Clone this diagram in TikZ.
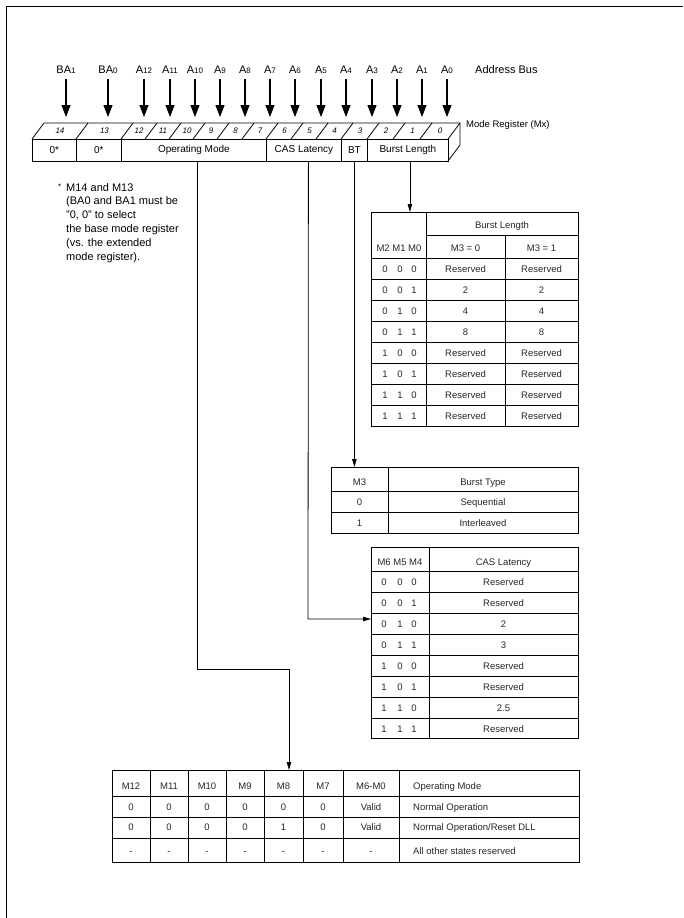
\documentclass[tikz,border=0pt]{standalone}
\usepackage{fontspec}
\setmainfont{Liberation Sans}
\usetikzlibrary{arrows.meta}

\newcommand{\busname}[2]{#1{\fontsize{8}{8}\selectfont #2}}

\tikzset{
  regcell/.style={draw,line width=0.8pt,anchor=north west,inner sep=0pt,minimum height=22pt,font=\fontsize{10}{12}\selectfont},
  bitnum/.style={inner sep=0pt,font=\fontsize{8}{8}\selectfont\itshape},
  buslabel/.style={anchor=base,inner sep=0pt,text height=8pt,text depth=0pt,font=\fontsize{11}{13}\selectfont},
  tabbox/.style={draw,line width=0.8pt,anchor=north west,inner sep=0pt},
  tabline/.style={line width=0.6pt},
  tabtext/.style={inner sep=0pt,text height=6.8pt,text depth=0pt,font=\fontsize{9.5}{11}\selectfont,text=black!85},
  busarrow/.style={line width=1.1pt,shorten <=6pt,-{Triangle[length=12pt,width=9pt]}},
  linkarrow/.style={line width=0.8pt,-{Triangle[length=8pt,width=4.5pt]}},
}

\begin{document}
\begin{tikzpicture}[x=1pt,y=-1pt]
  \useasboundingbox (0,0) rectangle (683,918);
  \draw[line width=1.5pt] (6.5,918) -- (6.5,6.5) -- (683,6.5);

  % address bus
  \foreach \ax/\pre/\sub [count=\i] in {66/BA/1,108/BA/0,144/A/12,170/A/11,195/A/10,220/A/9,245/A/8,270/A/7,295/A/6,321/A/5,346/A/4,372/A/3,397/A/2,422/A/1,447/A/0}{
    \node[buslabel] (ad\i) at (\ax,73) {\busname{\pre}{\sub}};
    \coordinate (pin\i) at (\ax,117);
    \draw[busarrow] (ad\i) -- (pin\i);
  }
  \node[buslabel,anchor=base west] (abus) at (475,73) {Address Bus};

  % mode register
  \draw[line width=0.8pt] (32,139) -- (44,123) -- (460,123) -- (460,145) -- (448,161);
  \draw[line width=0.8pt] (448,139) -- (460,123);
  \foreach \b in {76,121,145,169,193,217,242,266,291,316,341,367,393,420}
    \draw[line width=0.8pt] (\b,139) -- ++(12,-16);
  \foreach \bl/\br/\nm in {32/76/14,76/121/13,121/145/12,145/169/11,169/193/10,193/217/9,217/242/8,242/266/7,266/291/6,291/316/5,316/341/4,341/367/3,367/393/2,393/420/1,420/448/0}
    \node[bitnum] (bit\nm) at ({(\bl+\br)/2+6},131) {\nm};
  \node[regcell,minimum width=44pt] (m14) at (32,139) {0*};
  \node[regcell,minimum width=45pt] (m13) at (76,139) {0*};
  \node[regcell,minimum width=145pt] (om) at (121,139) {Operating Mode};
  \node[regcell,minimum width=75pt] (cl) at (266,139) {CAS Latency};
  \node[regcell,minimum width=26pt] (bt) at (341,139) {BT};
  \node[regcell,minimum width=81pt] (bl) at (367,139) {Burst Length};
  \node[anchor=west,inner sep=0pt,font=\fontsize{9.5}{11}\selectfont] (mreg) at (466,125) {Mode Register (Mx)};

  % footnote
  \node[anchor=north west,inner sep=0pt,align=left,font=\fontsize{11}{13.8}\selectfont] (note) at (66,183)
    {\llap{\raisebox{1.5pt}{\fontsize{8}{8}\selectfont *}\hspace{5pt}}M14 and M13\\(BA0 and BA1 must be\\"0, 0" to select\\the base mode register\\(vs. the extended\\mode register).};

  % burst length table
  \node[tabbox,minimum width=207pt,minimum height=214pt] (bltab) at (371,212) {};
  \draw[tabline] (426,212) -- (426,426) (505,235) -- (505,426) (426,235) -- (578,235) (371,258) -- (578,258);
  \foreach \y in {279,300,321,342,363,384,405}
    \draw[tabline] (371,\y) -- (578,\y);
  \node[tabtext] (blhead) at (502,225) {Burst Length};
  \node[tabtext] (blbits) at (399,248) {M2 M1 M0};
  \node[tabtext] (blseq) at (465.5,248) {M3 = 0};
  \node[tabtext] (blint) at (541.5,248) {M3 = 1};
  \foreach \da/\db/\dc/\va/\vb [count=\r] in {0/0/0/Reserved/Reserved,0/0/1/2/2,0/1/0/4/4,0/1/1/8/8,1/0/0/Reserved/Reserved,1/0/1/Reserved/Reserved,1/1/0/Reserved/Reserved,1/1/1/Reserved/Reserved}{
    \pgfmathsetmacro\ry{258+21*\r-10}
    \node[tabtext] (bl-\r-a) at (385,\ry) {\da};
    \node[tabtext] (bl-\r-b) at (400,\ry) {\db};
    \node[tabtext] (bl-\r-c) at (414,\ry) {\dc};
    \node[tabtext] (bl-\r-s) at (465.5,\ry) {\va};
    \node[tabtext] (bl-\r-i) at (541.5,\ry) {\vb};
  }

  % burst type table
  \node[tabbox,minimum width=247pt,minimum height=66pt] (bttab) at (331,467) {};
  \draw[tabline] (388,467) -- (388,533) (331,491) -- (578,491) (331,512) -- (578,512);
  \node[tabtext] (bthead) at (359.5,482) {M3};
  \node[tabtext] (btname) at (483,482) {Burst Type};
  \node[tabtext] (bt-1-a) at (359.5,502) {0};
  \node[tabtext] (bt-1-b) at (483,502) {Sequential};
  \node[tabtext] (bt-2-a) at (359.5,523) {1};
  \node[tabtext] (bt-2-b) at (483,523) {Interleaved};

  % CAS latency table
  \node[tabbox,minimum width=207pt,minimum height=191pt] (cltab) at (371,547) {};
  \draw[tabline] (429,547) -- (429,738);
  \foreach \y in {571,592,613,634,655,676,697,718}
    \draw[tabline] (371,\y) -- (578,\y);
  \node[tabtext] (clbits) at (400,562) {M6 M5 M4};
  \node[tabtext] (clhead) at (503.5,562) {CAS Latency};
  \foreach \da/\db/\dc/\va [count=\r] in {0/0/0/Reserved,0/0/1/Reserved,0/1/0/2,0/1/1/3,1/0/0/Reserved,1/0/1/Reserved,1/1/0/2.5,1/1/1/Reserved}{
    \pgfmathsetmacro\ry{571+21*\r-9.5}
    \node[tabtext] (cl-\r-a) at (384,\ry) {\da};
    \node[tabtext] (cl-\r-b) at (400,\ry) {\db};
    \node[tabtext] (cl-\r-c) at (414,\ry) {\dc};
    \node[tabtext] (cl-\r-v) at (503.5,\ry) {\va};
  }

  % operating mode table
  \node[tabbox,minimum width=467pt,minimum height=92pt] (omtab) at (112,770) {};
  \foreach \x in {150,188,226,264,303,343,399}
    \draw[tabline] (\x,770) -- (\x,862);
  \foreach \y in {796,817,838}
    \draw[tabline] (112,\y) -- (579,\y);
  \foreach \ry/\vals/\desc [count=\r] in {786/{M12,M11,M10,M9,M8,M7,M6-M0}/{Operating Mode},807/{0,0,0,0,0,0,Valid}/{Normal Operation},827/{0,0,0,0,1,0,Valid}/{Normal Operation/Reset DLL},851/{-,-,-,-,-,-,-}/{All other states reserved}}{
    \foreach \v [count=\c] in \vals {
      \pgfmathsetmacro\cx{{131,169,207,245,283.5,323,371}[\c-1]}
      \node[tabtext] (om-\r-\c) at (\cx,\ry) {\v};
    }
    \node[tabtext,anchor=west] (om-\r-d) at (413,\ry) {\desc};
  }

  % connectors
  \coordinate (omturn) at (289,669);
  \coordinate (clturn) at (308,619);
  \coordinate (blfoot) at ([xshift=2]bl.south);
  \draw[linkarrow] ([xshift=3]om.south) |- (omturn) -- (omturn |- omtab.north);
  \draw[linkarrow] ([xshift=4.5]cl.south) -- (clturn) -- (clturn -| cltab.west);
  \draw[linkarrow] (bt.south) -- (bt.south |- bttab.north);
  \draw[linkarrow] (blfoot) -- (blfoot |- bltab.north);
\end{tikzpicture}
\end{document}
